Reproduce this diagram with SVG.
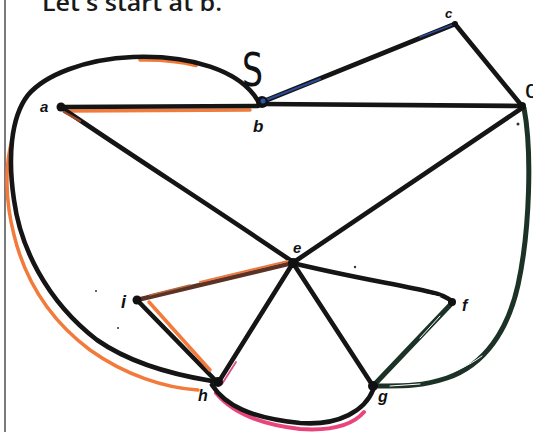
<svg xmlns="http://www.w3.org/2000/svg" width="533" height="432" viewBox="0 0 533 432">
<style>
.e{fill:none;stroke:#151515;stroke-width:4.6;stroke-linecap:round;stroke-linejoin:round}
.o{fill:none;stroke:#f27a3a;stroke-width:3.5;stroke-linecap:round}
.p{fill:none;stroke:#e9447e;stroke-width:4;stroke-linecap:round}
.g{fill:none;stroke:#1c3226;stroke-width:5;stroke-linecap:round;stroke-linejoin:round}
.w{fill:none;stroke:#ffffff;stroke-width:1;stroke-linecap:round}
.n{fill:#111}
.l{font-family:"Liberation Sans",Arial,sans-serif;font-style:italic;font-weight:bold;fill:#111}
.s{fill:#333}
</style>
<rect width="533" height="432" fill="#ffffff"/>
<line x1="5" y1="0" x2="5" y2="432" stroke="#7a7a7a" stroke-width="2"/>
<text x="42" y="11" font-family="'Open Sans',sans-serif" font-size="24" font-weight="600" fill="#1a1a1a" textLength="180" lengthAdjust="spacingAndGlyphs">Let's start at b.</text>
<g id="connectors">
  <!-- highlight underlays -->
  <path class="o" d="M12,140 C5,165 5,200 14,235 C25,280 50,320 90,350 C125,375 165,388 198,390"/>
  <path class="o" d="M140,60 C160,59.5 180,61.5 196,65.5" stroke-width="3"/>
  <line class="o" x1="66" y1="111" x2="250" y2="110"/>
  <path class="p" d="M216,393 C230,410 255,424 300,429 C330,431 352,426 364,412"/>
  <!-- b-h big loop -->
  <path class="e" d="M258,101 C240,70 190,55 133,57 C85,59 45,75 28,95 C10,118 8,160 14,200 C20,245 45,300 97,340 C130,363 175,375 212,381"/>
  <!-- a-b -->
  <line class="e" x1="61" y1="107" x2="258" y2="106"/>
  <!-- b-c -->
  <line class="e" x1="262" y1="102" x2="455" y2="24"/>
  <line x1="266" y1="100" x2="320" y2="79" stroke="#2a4a9a" stroke-width="2" stroke-linecap="round"/>
  <line x1="420" y1="37" x2="452" y2="25" stroke="#2a4a9a" stroke-width="1.5" stroke-linecap="round"/>
  <!-- c-d -->
  <line class="e" x1="455" y1="24" x2="522" y2="106"/>
  <!-- b-d -->
  <line class="e" x1="262" y1="104" x2="522" y2="106"/>
  <!-- a-e -->
  <path class="e" d="M62,108 C120,148 220,212 293,262"/>
  <line x1="64" y1="112" x2="80" y2="121" stroke="#a0492a" stroke-width="2.5" stroke-linecap="round"/>
  <!-- d-e -->
  <line class="e" x1="522" y1="108" x2="294" y2="262"/>
  <!-- d-g -->
  <path class="g" d="M524,108 C532,150 530,230 518,285 C508,330 485,365 447,378 C420,387 400,386 378,386"/>
  <path class="w" d="M482,356 C468,366 455,372 440,376"/>
  <path class="w" d="M420,384 C410,385 400,385 390,386"/>
  <!-- e-i -->
  <line x1="292" y1="263" x2="137" y2="300" stroke="#5a3326" stroke-width="4.5" stroke-linecap="round"/>
  <line x1="288" y1="261" x2="200" y2="282" stroke="#e87b45" stroke-width="2" stroke-linecap="round"/>
  <line x1="190" y1="285" x2="150" y2="295" stroke="#b8683e" stroke-width="1.5" stroke-linecap="round"/>
  <!-- i-h -->
  <line class="e" x1="137" y1="300" x2="218" y2="383"/>
  <line class="o" x1="149" y1="302" x2="210" y2="370" stroke-width="2.5"/>
  <!-- e-h -->
  <line class="e" x1="293" y1="263" x2="218" y2="383"/>
  <line x1="236" y1="362" x2="222" y2="384" stroke="#d94c84" stroke-width="1.8" stroke-linecap="round"/>
  <!-- e-g -->
  <line class="e" x1="293" y1="263" x2="373" y2="386"/>
  <!-- e-f -->
  <path class="e" d="M293,263 C340,275 400,285 430,292 C440,294 448,298 453,302"/>
  <path class="w" d="M418,293 L440,297"/>
  <!-- f-g -->
  <line class="g" x1="453" y1="302" x2="373" y2="386"/>
  <line class="w" x1="440" y1="316" x2="420" y2="338"/>
  <!-- h-g -->
  <path class="e" d="M212,385 C225,405 250,418 300,423 C340,426 365,410 373,390"/>
</g>
<g id="node-a"><circle class="n" cx="61" cy="107" r="4.5"/><text class="l" x="40" y="112" font-size="15">a</text></g>
<g id="node-b"><circle class="n" cx="262" cy="102" r="6"/><circle cx="263" cy="101" r="2.5" fill="#2f55b0"/><text class="l" x="253" y="132" font-size="17">b</text></g>
<g id="node-c"><circle class="n" cx="455" cy="24" r="3"/><text class="l" x="445" y="18" font-size="13">c</text></g>
<g id="node-d"><circle class="n" cx="522" cy="106" r="4"/><text x="525" y="98" font-family="'Liberation Sans',Arial,sans-serif" font-size="26" fill="#111">d</text></g>
<g id="node-e"><circle class="n" cx="293" cy="263" r="5"/><text class="l" x="293" y="253" font-size="15">e</text></g>
<g id="node-f"><circle class="n" cx="452" cy="302" r="4"/><text class="l" x="462" y="311" font-size="16">f</text></g>
<g id="node-g"><circle class="n" cx="373" cy="386" r="5"/><text class="l" x="378" y="402" font-size="16">g</text></g>
<g id="node-h"><circle class="n" cx="218" cy="382" r="5"/><text class="l" x="198" y="401" font-size="16">h</text></g>
<g id="node-i"><circle class="n" cx="137" cy="300" r="4.5"/><text class="l" x="121" y="308" font-size="18">i</text></g>
<text x="242" y="86" font-family="'DejaVu Sans',sans-serif" font-size="46" fill="#111" textLength="21" lengthAdjust="spacingAndGlyphs">S</text>
<circle class="s" cx="518" cy="124" r="1.5"/>
<circle class="s" cx="355" cy="267" r="1.2"/>
<circle class="s" cx="96" cy="291" r="1"/>
<circle class="s" cx="118" cy="328" r="1"/>
</svg>
